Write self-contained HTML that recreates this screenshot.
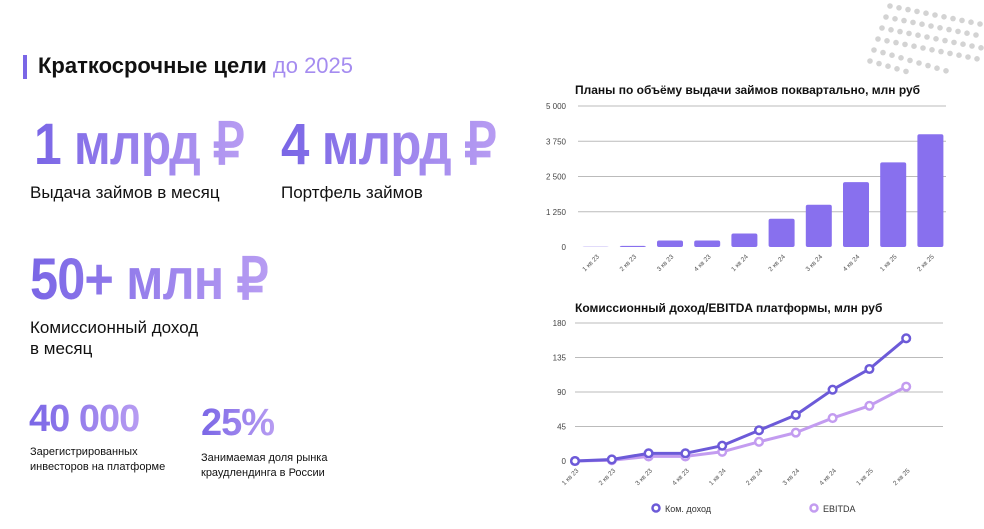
<!DOCTYPE html>
<html><head><meta charset="utf-8">
<style>
body{margin:0;width:984px;height:529px;background:#fff;position:relative;overflow:hidden;font-family:"Liberation Sans","Noto Sans CJK SC",sans-serif;color:#111}
.a{position:absolute;white-space:nowrap}
.big{font-weight:bold;background:linear-gradient(90deg,#7a66e6,#b79cf2);-webkit-background-clip:text;background-clip:text;color:transparent;letter-spacing:-1px;transform-origin:0 0}
</style></head><body>
<svg class="a" style="left:860px;top:0" width="124" height="80">
<g fill="#d3d3d3" id="dots"></g></svg>
<div class="a" style="left:23px;top:55px;width:4px;height:24px;background:#7a66e6"></div>
<div class="a" style="left:38px;top:53px;font-size:22px;font-weight:bold">Краткосрочные цели <span style="color:#a58cf0;font-weight:normal">до 2025</span></div>
<div class="a big" style="left:34px;top:110px;font-size:58px;transform:scaleX(0.86)">1 млрд ₽</div>
<div class="a" style="left:30px;top:183px;font-size:17px">Выдача займов в месяц</div>
<div class="a big" style="left:281px;top:110px;font-size:58px;transform:scaleX(0.88)">4 млрд ₽</div>
<div class="a" style="left:281px;top:183px;font-size:17px">Портфель займов</div>
<div class="a big" style="left:30px;top:245px;font-size:58px;transform:scaleX(0.87)">50+ млн ₽</div>
<div class="a" style="left:30px;top:317px;font-size:17px;line-height:21px">Комиссионный доход<br>в месяц</div>
<div class="a big" style="left:29px;top:398px;font-size:38px">40 000</div>
<div class="a" style="left:30px;top:445px;font-size:11px;line-height:15px">Зарегистрированных<br>инвесторов на платформе</div>
<div class="a big" style="left:201px;top:402px;font-size:38px">25%</div>
<div class="a" style="left:201px;top:451px;font-size:11px;line-height:15px">Занимаемая доля рынка<br>краудлендинга в России</div>

<svg class="a" style="left:0;top:0" width="984" height="529" id="charts" font-family="Liberation Sans, sans-serif">
<text x="575" y="94" font-size="12" font-weight="bold" fill="#111">Планы по объёму выдачи займов поквартально, млн руб</text>
<g id="bars"></g>
<text x="575" y="312" font-size="12" font-weight="bold" fill="#111">Комиссионный доход/EBITDA платформы, млн руб</text>
<g id="lines"></g>
<g><circle cx="656" cy="508" r="3.5" fill="#fff" stroke="#6c5ad8" stroke-width="2.5"/><text x="665" y="512" font-size="9" fill="#333">Ком. доход</text></g>
<g><circle cx="814" cy="508" r="3.5" fill="#fff" stroke="#c39cf0" stroke-width="2.5"/><text x="823" y="512" font-size="9" fill="#333">EBITDA</text></g>
</svg>
<script>
const categories=["1 кв 23","2 кв 23","3 кв 23","4 кв 23","1 кв 24","2 кв 24","3 кв 24","4 кв 24","1 кв 25","2 кв 25"];
const loanValues=[10,40,230,230,480,1000,1500,2300,3000,4000];
const loanTicks=["0","1 250","2 500","3 750","5 000"];
const commissionValues=[0,2,10,10,20,40,60,93,120,160];
const ebitdaValues=[0,1,6,6,12,25,37,56,72,97];
const lineTicks=["0","45","90","135","180"];
const NS="http://www.w3.org/2000/svg";
function mk(t,a,p){const e=document.createElementNS(NS,t);for(const k in a)e.setAttribute(k,a[k]);p.appendChild(e);return e;}
const dg=document.getElementById('dots');
for(let r=0;r<6;r++)for(let c=0;c<13;c++){const x=30+c*9-r*4,y=6+r*11+c*1.8+ (r>3?c*0.8:0);if(x<124&&x>0&&y<72){mk('circle',{cx:x,cy:y,r:2.8},dg);}}
const bg=document.getElementById('bars');
const bY0=247,bY1=106,bMax=5000,bx0=577,bStep=37.2;
const by=v=>bY0-(v/bMax)*(bY0-bY1);
const bx=i=>bx0+bStep*(i+0.5);
loanTicks.forEach((t,i)=>{const v=i*1250;const y=by(v);
 if(i>0){const l=mk('line',{x1:578,x2:946,y1:y,y2:y,stroke:'#bbb','stroke-width':1},bg);
 }
 const tx=mk('text',{x:566,y:y+3,'font-size':8,fill:'#444','text-anchor':'end'},bg);tx.textContent=t;
 });
loanValues.forEach((v,i)=>{const y=by(v);
 const r=mk('rect',{x:bx(i)-13,y:y,width:26,height:bY0-y,fill:'#8870ee',rx:2},bg);
 
 
 const t=mk('text',{x:bx(i)+4,y:bY0+10,'font-size':6.5,fill:'#555','text-anchor':'end',transform:`rotate(-45 ${bx(i)+4} ${bY0+10})`},bg);t.textContent=categories[i];
 });
const lg=document.getElementById('lines');
const lY0=461,lY1=323,lMax=180,lx0=575,lStep=36.8;
const ly=v=>lY0-(v/lMax)*(lY0-lY1);
const lx=i=>lx0+lStep*i;
lineTicks.forEach((t,i)=>{const v=i*45;const y=ly(v);
 if(i>0){const l=mk('line',{x1:575,x2:943,y1:y,y2:y,stroke:'#bbb','stroke-width':1},lg);}
 const tx=mk('text',{x:566,y:y+3,'font-size':8,fill:'#444','text-anchor':'end'},lg);tx.textContent=t;
 });
[[ebitdaValues,'#c39cf0','ebitda'],[commissionValues,'#6c5ad8','commission']].forEach(([vals,col,nm])=>{
 const p=mk('polyline',{points:vals.map((v,i)=>lx(i)+','+ly(v)).join(' '),fill:'none',stroke:col,'stroke-width':3,'stroke-linejoin':'round'},lg);
 
 vals.forEach((v,i)=>{const c=mk('circle',{cx:lx(i),cy:ly(v),r:3.8,fill:'#fff',stroke:col,'stroke-width':2.5},lg);
  
  });});
categories.forEach((c,i)=>{const x=lx(i)+4,y=lY0+10;
 const t=mk('text',{x:x,y:y,'font-size':6.5,fill:'#555','text-anchor':'end',transform:`rotate(-45 ${x} ${y})`},lg);t.textContent=c;
 });
</script>
</body></html>
